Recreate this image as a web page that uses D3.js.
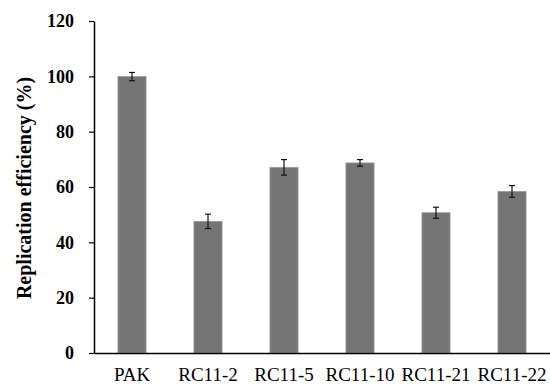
<!DOCTYPE html>
<html>
<head>
<meta charset="utf-8">
<script src="https://cdn.jsdelivr.net/npm/d3@7"></script>
<style>
  body { margin: 0; background: #fff; }
  svg { display: block; }
</style>
</head>
<body>
<svg id="chart" width="550" height="384"></svg>
<script>
// data
var categories = ['PAK', 'RC11-2', 'RC11-5', 'RC11-10', 'RC11-21', 'RC11-22'];
var values = [99.9, 47.6, 67.1, 68.7, 50.7, 58.4];
var errors = [1.5, 2.6, 2.8, 1.2, 2.0, 2.1];
var yTicks = [0, 20, 40, 60, 80, 100, 120];

var svg = d3.select('#chart');
var width = 550, height = 384;
var margin = { top: 21, right: 0, bottom: 31, left: 94 };
var serif = '"Liberation Serif", "Times New Roman", serif';

var x = d3.scaleBand()
  .domain(categories)
  .range([margin.left, width - margin.right])
  .paddingInner(0.63)
  .paddingOuter(0.315);

var y = d3.scaleLinear()
  .domain([0, 120])
  .range([height - margin.bottom, margin.top]);

// bars
svg.append('g')
  .selectAll('rect')
  .data(categories)
  .join('rect')
  .attr('x', function(d) { return x(d); })
  .attr('width', x.bandwidth())
  .attr('y', function(d, i) { return y(values[i]); })
  .attr('height', function(d, i) { return y(0) - y(values[i]); })
  .attr('fill', '#757575')
  .attr('stroke', '#9a9a9a')
  .attr('stroke-width', 0.8);

// error bars
var err = svg.append('g')
  .attr('stroke', '#111')
  .attr('stroke-width', 1.2)
  .selectAll('g')
  .data(categories)
  .join('g')
  .attr('transform', function(d) { return 'translate(' + (x(d) + x.bandwidth() / 2) + ',0)'; });

err.append('line')
  .attr('y1', function(d, i) { return y(values[i] + errors[i]); })
  .attr('y2', function(d, i) { return y(values[i] - errors[i]); });
err.append('line')
  .attr('x1', -3).attr('x2', 3)
  .attr('y1', function(d, i) { return y(values[i] + errors[i]); })
  .attr('y2', function(d, i) { return y(values[i] + errors[i]); });
err.append('line')
  .attr('x1', -3).attr('x2', 3)
  .attr('y1', function(d, i) { return y(values[i] - errors[i]); })
  .attr('y2', function(d, i) { return y(values[i] - errors[i]); });

// y axis
var yAxis = svg.append('g')
  .attr('transform', 'translate(' + margin.left + ',0)')
  .call(d3.axisLeft(y).tickValues(yTicks).tickSize(5).tickPadding(15).tickSizeOuter(0));
yAxis.select('.domain').attr('stroke', '#000').attr('stroke-width', 1.5);
yAxis.selectAll('.tick line').attr('stroke', '#000').attr('stroke-width', 1.2);
yAxis.selectAll('.tick text')
  .style('font-family', serif)
  .style('font-size', '18px')
  .style('font-weight', 'bold')
  .attr('fill', '#000');

// x axis
var xAxis = svg.append('g')
  .attr('transform', 'translate(0,' + y(0) + ')')
  .call(d3.axisBottom(x).tickSize(0).tickPadding(15).tickSizeOuter(0));
xAxis.select('.domain').attr('stroke', '#000').attr('stroke-width', 1.5);
xAxis.selectAll('.tick text')
  .style('font-family', serif)
  .style('font-size', '19px')
  .attr('fill', '#000');

// y label
svg.append('text')
  .attr('transform', 'translate(31,188) rotate(-90)')
  .attr('text-anchor', 'middle')
  .style('font-family', serif)
  .style('font-size', '20px')
  .style('font-weight', 'bold')
  .text('Replication efficiency (%)');
</script>
</body>
</html>
